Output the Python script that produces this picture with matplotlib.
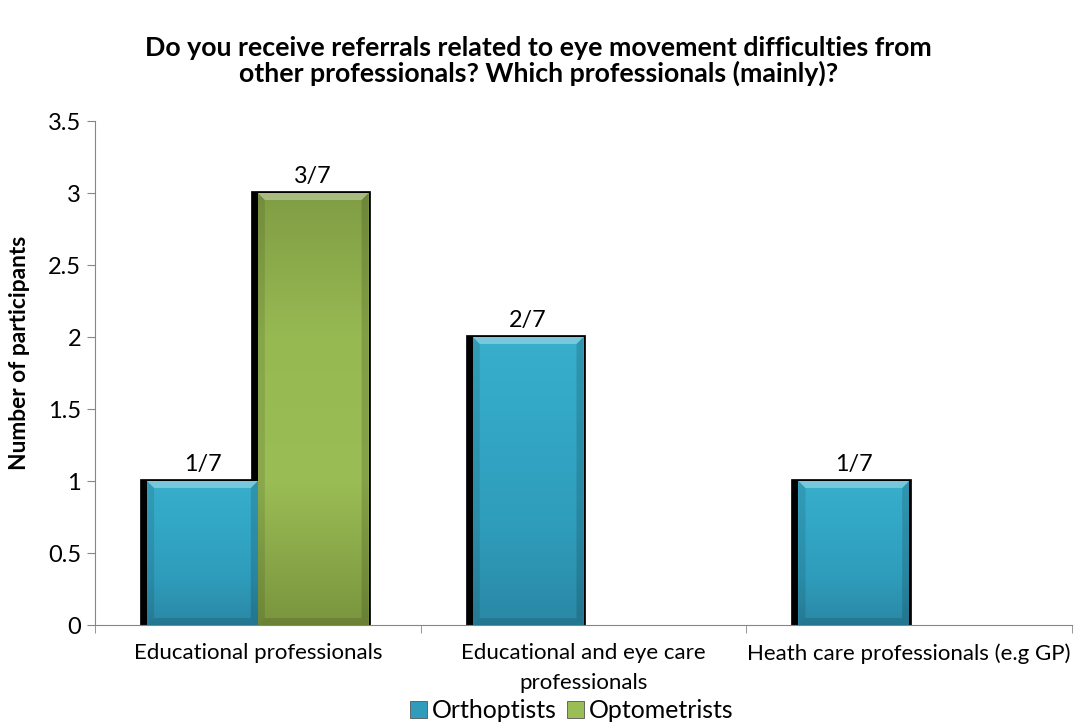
import numpy as np
import matplotlib.pyplot as plt
import matplotlib.patheffects as pe
from matplotlib.colors import LinearSegmentedColormap
from matplotlib.patches import Polygon

plt.rcParams['font.family'] = ['Lato', 'DejaVu Sans']

# Data
groups = ["Educational professionals",
          "Educational and eye care\nprofessionals",
          "Heath care professionals (e.g GP)"]
series = ["Orthoptists", "Optometrists"]
orthoptists = [1, 2, 1]
optometrists = [3, np.nan, np.nan]
labels_orth = ["1/7", "2/7", "1/7"]
labels_opt = ["3/7", "", ""]

# bottom -> top gradient stops for each series
colors = {"Orthoptists": ["#2a88a5", "#2f9cbb", "#33a6c5", "#38afcc"],
          "Optometrists": ["#7a953e", "#9bbd55", "#97b952", "#809d44"]}

fig = plt.figure(figsize=(10.77, 7.22), dpi=100)
ax = fig.add_axes([0.0882, 0.1343, 0.9072, 0.6981])
ax.set_xlim(-0.5, len(groups) - 0.5)
ax.set_ylim(0, 3.5)

x = np.arange(len(groups))
width = 0.34
shadow = [pe.Stroke(linewidth=7, foreground='black', offset=(-1.5, -2.2), joinstyle='miter'),
          pe.Normal()]

# size of one pixel in data units
px_x = 3 / (0.9072 * 1077)
px_y = 3.5 / (0.6981 * 722)
bev = 7

def shade(bars, stops):
    # vertical gradient plus bevelled edges inside each bar
    cmap = LinearSegmentedColormap.from_list("g", stops)
    grad = np.linspace(0, 1, 256).reshape(-1, 1)
    for b in bars:
        h = b.get_height()
        if not np.isfinite(h) or h == 0:
            continue
        x0, w = b.get_x(), b.get_width()
        x1 = x0 + w
        im = ax.imshow(grad, cmap=cmap, origin='lower', aspect='auto',
                       extent=(x0, x1, 0, h), zorder=3)
        im.set_clip_path(b)
        bx, by = bev * px_x, bev * px_y
        faces = [
            ([(x0, h), (x1, h), (x1 - bx, h - by), (x0 + bx, h - by)], 'white', 0.32),
            ([(x0, 0), (x1, 0), (x1 - bx, by), (x0 + bx, by)], 'black', 0.12),
            ([(x0, 0), (x0, h), (x0 + bx, h - by), (x0 + bx, by)], 'black', 0.10),
            ([(x1, 0), (x1, h), (x1 - bx, h - by), (x1 - bx, by)], 'black', 0.14),
        ]
        for pts, c, a in faces:
            ax.add_patch(Polygon(pts, closed=True, facecolor=c, alpha=a,
                                 linewidth=0, zorder=4))

b1 = ax.bar(x - width / 2, orthoptists, width, color=colors["Orthoptists"][1],
            label="Orthoptists", zorder=2, path_effects=shadow, linewidth=0)
b2 = ax.bar(x + width / 2, optometrists, width, color=colors["Optometrists"][1],
            label="Optometrists", zorder=2, path_effects=shadow, linewidth=0)
shade(b1, colors["Orthoptists"])
shade(b2, colors["Optometrists"])

for bars, labs in ((b1, labels_orth), (b2, labels_opt)):
    for b, t in zip(bars, labs):
        if t:
            ax.annotate(t, (b.get_x() + b.get_width() / 2, b.get_height()),
                        xytext=(0, 4), textcoords='offset points',
                        ha='center', va='bottom', fontsize=16.8, zorder=5)

ax.set_yticks(np.arange(0, 3.51, 0.5))
ax.set_yticklabels(["0", "0.5", "1", "1.5", "2", "2.5", "3", "3.5"], fontsize=17)
ax.set_xticks(x)
ax.set_xticklabels(groups, fontsize=16, va='top', linespacing=1.6)
ax.tick_params(axis='x', length=0, pad=13)
ax.set_xticks(np.arange(-0.5, len(groups)), minor=True)
ax.tick_params(axis='x', which='minor', length=6, color='#868686')
ax.tick_params(axis='y', length=6, color='#868686', pad=4)

for s in ('top', 'right'):
    ax.spines[s].set_visible(False)
for s in ('left', 'bottom'):
    ax.spines[s].set_color('#868686')

ax.set_ylabel("Number of participants", fontsize=16.4, fontweight='bold')
ax.yaxis.set_label_coords(-0.067, 0.54)
fig.suptitle("Do you receive referrals related to eye movement difficulties from\n"
             "other professionals? Which professionals (mainly)?",
             fontsize=19.3, fontweight='bold', y=0.95, linespacing=1.04, va='top')

handles = [plt.Rectangle((0, 0), 1, 1, facecolor=colors[s][1], edgecolor='#555555', linewidth=0.6)
           for s in series]
fig.legend(handles, series, loc='center', bbox_to_anchor=(0.531, 0.016), ncol=2,
           frameon=False, fontsize=17.9, handlelength=0.7, handleheight=0.7,
           handletextpad=0.2, columnspacing=0.4, borderpad=0)

fig.savefig("out.png", dpi=100)
